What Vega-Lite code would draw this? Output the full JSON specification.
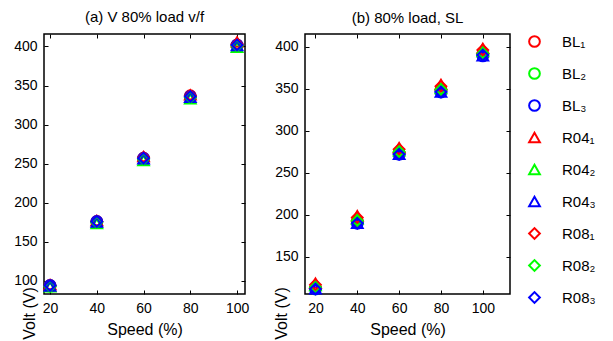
{
  "$schema": "https://vega.github.io/schema/vega-lite/v6.json",
  "padding": {"left": 12, "top": 9, "right": 5, "bottom": 0},
  "background": "white",
  "datasets": {
    "a": [
      {"series": "BL₁", "speed": 20, "volt": 94}, {"series": "BL₁", "speed": 40, "volt": 176}, {"series": "BL₁", "speed": 60, "volt": 257}, {"series": "BL₁", "speed": 80, "volt": 337}, {"series": "BL₁", "speed": 100, "volt": 402},
      {"series": "BL₂", "speed": 20, "volt": 93}, {"series": "BL₂", "speed": 40, "volt": 175}, {"series": "BL₂", "speed": 60, "volt": 256}, {"series": "BL₂", "speed": 80, "volt": 335}, {"series": "BL₂", "speed": 100, "volt": 401},
      {"series": "BL₃", "speed": 20, "volt": 94}, {"series": "BL₃", "speed": 40, "volt": 176}, {"series": "BL₃", "speed": 60, "volt": 257}, {"series": "BL₃", "speed": 80, "volt": 336}, {"series": "BL₃", "speed": 100, "volt": 402},
      {"series": "R04₁", "speed": 20, "volt": 95}, {"series": "R04₁", "speed": 40, "volt": 177}, {"series": "R04₁", "speed": 60, "volt": 259}, {"series": "R04₁", "speed": 80, "volt": 338}, {"series": "R04₁", "speed": 100, "volt": 406},
      {"series": "R04₂", "speed": 20, "volt": 92}, {"series": "R04₂", "speed": 40, "volt": 173}, {"series": "R04₂", "speed": 60, "volt": 254}, {"series": "R04₂", "speed": 80, "volt": 333}, {"series": "R04₂", "speed": 100, "volt": 399},
      {"series": "R04₃", "speed": 20, "volt": 93}, {"series": "R04₃", "speed": 40, "volt": 175}, {"series": "R04₃", "speed": 60, "volt": 256}, {"series": "R04₃", "speed": 80, "volt": 335}, {"series": "R04₃", "speed": 100, "volt": 401},
      {"series": "R08₁", "speed": 20, "volt": 94}, {"series": "R08₁", "speed": 40, "volt": 176}, {"series": "R08₁", "speed": 60, "volt": 258}, {"series": "R08₁", "speed": 80, "volt": 337}, {"series": "R08₁", "speed": 100, "volt": 403},
      {"series": "R08₂", "speed": 20, "volt": 93}, {"series": "R08₂", "speed": 40, "volt": 175}, {"series": "R08₂", "speed": 60, "volt": 256}, {"series": "R08₂", "speed": 80, "volt": 335}, {"series": "R08₂", "speed": 100, "volt": 401},
      {"series": "R08₃", "speed": 20, "volt": 94}, {"series": "R08₃", "speed": 40, "volt": 176}, {"series": "R08₃", "speed": 60, "volt": 257}, {"series": "R08₃", "speed": 80, "volt": 336}, {"series": "R08₃", "speed": 100, "volt": 402}
    ],
    "b": [
      {"series": "BL₁", "speed": 20, "volt": 113}, {"series": "BL₁", "speed": 40, "volt": 193}, {"series": "BL₁", "speed": 60, "volt": 274}, {"series": "BL₁", "speed": 80, "volt": 349}, {"series": "BL₁", "speed": 100, "volt": 391},
      {"series": "BL₂", "speed": 20, "volt": 112}, {"series": "BL₂", "speed": 40, "volt": 191}, {"series": "BL₂", "speed": 60, "volt": 273}, {"series": "BL₂", "speed": 80, "volt": 347}, {"series": "BL₂", "speed": 100, "volt": 390},
      {"series": "BL₃", "speed": 20, "volt": 112}, {"series": "BL₃", "speed": 40, "volt": 190}, {"series": "BL₃", "speed": 60, "volt": 272}, {"series": "BL₃", "speed": 80, "volt": 346}, {"series": "BL₃", "speed": 100, "volt": 389},
      {"series": "R04₁", "speed": 20, "volt": 119}, {"series": "R04₁", "speed": 40, "volt": 199}, {"series": "R04₁", "speed": 60, "volt": 280}, {"series": "R04₁", "speed": 80, "volt": 355}, {"series": "R04₁", "speed": 100, "volt": 398},
      {"series": "R04₂", "speed": 20, "volt": 116}, {"series": "R04₂", "speed": 40, "volt": 195}, {"series": "R04₂", "speed": 60, "volt": 276}, {"series": "R04₂", "speed": 80, "volt": 350}, {"series": "R04₂", "speed": 100, "volt": 394},
      {"series": "R04₃", "speed": 20, "volt": 112}, {"series": "R04₃", "speed": 40, "volt": 190}, {"series": "R04₃", "speed": 60, "volt": 272}, {"series": "R04₃", "speed": 80, "volt": 346}, {"series": "R04₃", "speed": 100, "volt": 389},
      {"series": "R08₁", "speed": 20, "volt": 117}, {"series": "R08₁", "speed": 40, "volt": 197}, {"series": "R08₁", "speed": 60, "volt": 278}, {"series": "R08₁", "speed": 80, "volt": 353}, {"series": "R08₁", "speed": 100, "volt": 396},
      {"series": "R08₂", "speed": 20, "volt": 114}, {"series": "R08₂", "speed": 40, "volt": 193}, {"series": "R08₂", "speed": 60, "volt": 275}, {"series": "R08₂", "speed": 80, "volt": 349}, {"series": "R08₂", "speed": 100, "volt": 392},
      {"series": "R08₃", "speed": 20, "volt": 112}, {"series": "R08₃", "speed": 40, "volt": 190}, {"series": "R08₃", "speed": 60, "volt": 272}, {"series": "R08₃", "speed": 80, "volt": 346}, {"series": "R08₃", "speed": 100, "volt": 390}
    ]
  },
  "config": {
    "font": "Liberation Sans",
    "view": {"stroke": "black", "strokeWidth": 1.5},
    "axis": {"grid": false, "domain": false, "tickColor": "black", "tickSize": -4, "tickWidth": 1, "labelFontSize": 14, "labelColor": "black", "titleFontSize": 16, "titleFontWeight": "normal", "titleColor": "black", "labelPadding": 11},
    "title": {"fontSize": 15, "fontWeight": "normal", "color": "black"},
    "concat": {"spacing": 22},
    "legend": {"padding": 0}
  },
  "resolve": {"scale": {"color": "shared", "shape": "shared", "size": "shared"}},
  "hconcat": [
    {
      "title": {"text": "(a) V 80% load v/f", "offset": 8},
      "width": 201,
      "height": 260,
      "data": {"name": "a"},
      "resolve": {"axis": {"x": "independent", "y": "independent"}},
      "layer": [
        {
          "mark": {"type": "point", "filled": false, "strokeWidth": 2, "opacity": 1},
          "encoding": {
            "x": {"field": "speed", "type": "quantitative", "scale": {"domain": [17.4, 103.4], "nice": false, "zero": false}, "axis": {"values": [20, 40, 60, 80, 100], "title": "Speed (%)", "titlePadding": 6}},
            "y": {"field": "volt", "type": "quantitative", "scale": {"domain": [83, 416], "nice": false, "zero": false}, "axis": {"values": [100, 150, 200, 250, 300, 350, 400], "title": "Volt (V)", "titleX": -10, "titleY": 279, "titleAlign": "center", "titleBaseline": "alphabetic", "titleAngle": 270}},
            "color": {"field": "series", "type": "nominal", "scale": {"domain": ["BL₁", "BL₂", "BL₃", "R04₁", "R04₂", "R04₃", "R08₁", "R08₂", "R08₃"], "range": ["#ff0000", "#00ff00", "#0000ff", "#ff0000", "#00ff00", "#0000ff", "#ff0000", "#00ff00", "#0000ff"]}, "legend": {"title": null, "offset": 15, "labelFontSize": 15, "labelColor": "black", "symbolStrokeWidth": 2, "rowPadding": 13, "labelOffset": 20}},
            "shape": {"field": "series", "type": "nominal", "scale": {"domain": ["BL₁", "BL₂", "BL₃", "R04₁", "R04₂", "R04₃", "R08₁", "R08₂", "R08₃"], "range": ["circle", "circle", "circle", "triangle-up", "triangle-up", "triangle-up", "diamond", "diamond", "diamond"]}},
            "size": {"field": "series", "type": "nominal", "scale": {"domain": ["BL₁", "BL₂", "BL₃", "R04₁", "R04₂", "R04₃", "R08₁", "R08₂", "R08₃"], "range": [115, 115, 115, 190, 190, 190, 105, 105, 105]}}
          }
        },
        {
          "mark": {"type": "point", "opacity": 0},
          "encoding": {
            "x": {"field": "speed", "type": "quantitative", "scale": {"domain": [17.4, 103.4], "nice": false, "zero": false}, "axis": {"orient": "top", "values": [20, 40, 60, 80, 100], "labels": false, "title": null}},
            "y": {"field": "volt", "type": "quantitative", "scale": {"domain": [83, 416], "nice": false, "zero": false}, "axis": {"orient": "right", "values": [100, 150, 200, 250, 300, 350, 400], "labels": false, "title": null}}
          }
        }
      ]
    },
    {
      "title": {"text": "(b) 80% load, SL", "offset": 8},
      "width": 205,
      "height": 260,
      "data": {"name": "b"},
      "resolve": {"axis": {"x": "independent", "y": "independent"}},
      "layer": [
        {
          "mark": {"type": "point", "filled": false, "strokeWidth": 2, "opacity": 1},
          "encoding": {
            "x": {"field": "speed", "type": "quantitative", "scale": {"domain": [15, 113], "nice": false, "zero": false}, "axis": {"values": [20, 40, 60, 80, 100], "title": "Speed (%)", "titlePadding": 6}},
            "y": {"field": "volt", "type": "quantitative", "scale": {"domain": [106, 415], "nice": false, "zero": false}, "axis": {"values": [150, 200, 250, 300, 350, 400], "title": "Volt (V)", "titleX": -19, "titleY": 279, "titleAlign": "center", "titleBaseline": "alphabetic", "titleAngle": 270}},
            "color": {"field": "series", "type": "nominal", "scale": {"domain": ["BL₁", "BL₂", "BL₃", "R04₁", "R04₂", "R04₃", "R08₁", "R08₂", "R08₃"], "range": ["#ff0000", "#00ff00", "#0000ff", "#ff0000", "#00ff00", "#0000ff", "#ff0000", "#00ff00", "#0000ff"]}},
            "shape": {"field": "series", "type": "nominal", "scale": {"domain": ["BL₁", "BL₂", "BL₃", "R04₁", "R04₂", "R04₃", "R08₁", "R08₂", "R08₃"], "range": ["circle", "circle", "circle", "triangle-up", "triangle-up", "triangle-up", "diamond", "diamond", "diamond"]}},
            "size": {"field": "series", "type": "nominal", "scale": {"domain": ["BL₁", "BL₂", "BL₃", "R04₁", "R04₂", "R04₃", "R08₁", "R08₂", "R08₃"], "range": [115, 115, 115, 190, 190, 190, 105, 105, 105]}}
          }
        },
        {
          "mark": {"type": "point", "opacity": 0},
          "encoding": {
            "x": {"field": "speed", "type": "quantitative", "scale": {"domain": [15, 113], "nice": false, "zero": false}, "axis": {"orient": "top", "values": [20, 40, 60, 80, 100], "labels": false, "title": null}},
            "y": {"field": "volt", "type": "quantitative", "scale": {"domain": [106, 415], "nice": false, "zero": false}, "axis": {"orient": "right", "values": [150, 200, 250, 300, 350, 400], "labels": false, "title": null}}
          }
        }
      ]
    }
  ]
}
